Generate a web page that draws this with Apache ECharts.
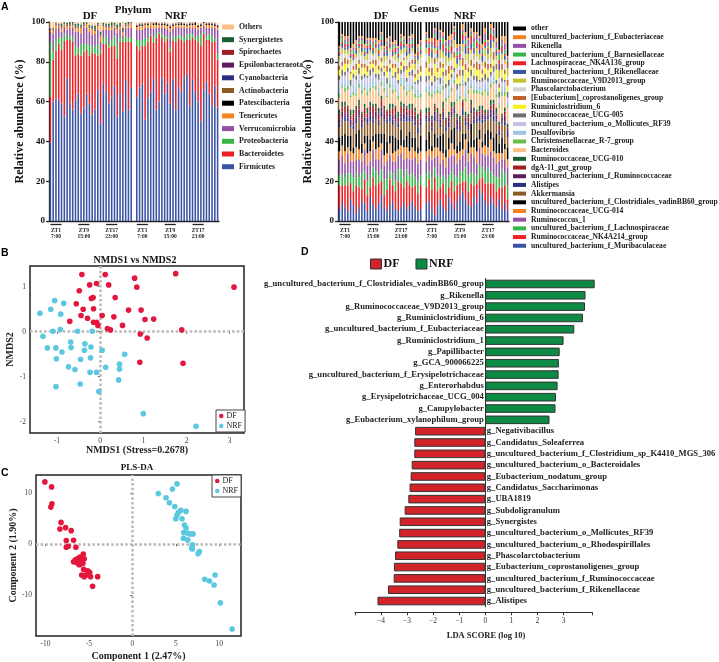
<!DOCTYPE html>
<html>
<head>
<meta charset="utf-8">
<style>
	html, body { margin: 0; padding: 0; background: #fff; }
	#chart { width: 719px; height: 662px; }
</style>
<script src="https://cdn.jsdelivr.net/npm/echarts@6/dist/echarts.min.js"></script>
</head>
<body>
<div id="chart"></div>
<script>
const SERIF = '"Liberation Serif", serif';

// panel A, sample groups and time labels
const sampleNames = Array.from({ length: 61 }, (_, i) => 'S' + i);
const ztGroups = [[0, 4], [10, 14], [20, 24], [31, 35], [41, 45], [51, 55]];
const ztLabels = ['ZT1\n7:00', 'ZT9\n15:00', 'ZT17\n23:00', 'ZT1\n7:00', 'ZT9\n15:00', 'ZT17\n23:00'];

// phylum, 30 DF samples then 30 NRF samples
const phylumFirmicutes = [39.5,60,61.5,61,59,52.5,72,59,56,61,64,54,57,64,59,53.5,56,66,49,69,65,59,62,68,52.5,64,55,71,56,67, 62,67,69,51,62,65,71.5,56,60,72,64,69.5,59,71.5,56,67.5,65,72,74,58,71,65,60,50,66,70,64,58,68,57];
const phylumBacteroidetes = [23,21,24,28,27,38,19,32,34,22,20,29,28,22,24,31,28,17,35,20,24,28,26,20,29,26,35,19,34,23, 26,19,19,37,28,28,18,36,34,20,26,22,26,19,34,24,26,18,17,33,21,26,30,38,28,21,27,32,22,24];
const phylumProteobacteria = [27.5,4,6,3,6,4,1,2,3,5,3,6,4,3,5,4,3,6,2,3,4,2,3,5,8,2,2,3,2,2, 3,5,3,4,2,1,3,2,1,2,3,1,2,3,2,2,2,2,3,3,2,1,3,6,1,2,3,3,2,3];
const phylumVerrucomicrobia = [5,9,5,5,3,3,4,4,4,7,8,5,8,8,7,5,7,7,4,4,3,7,5,4,5,4,1,4,5,5, 5,5,5,5,5,3,4,3,2,3,4,4,8,3,5,4,4,5,3,3,3,5,3,3,3,4,3,4,5,12];
const phylumTenericutes = [0.8,2,2,1,2,1.5,2,1,1.5,2,2,3,1,2,2,3,1.5,2,3,2,1.5,1,1.5,1,2,1.5,2,1,1,2.5, 1.5,2,2,1.5,1.5,3,2,1.5,1.5,1.5,1.5,1.5,2,1.5,1.5,1,1.5,1.5,1,1.5,1.5,1.5,1.5,1,1.5,1.5,1.5,1.5,1,1.5];
const phylumPatescibacteria = [0.3,0.2,0.2,0.2,0.3,0.2,0.3,0.2,0.2,0.3,0.3,0.2,0.2,0.3,0.2,0.2,0.3,0.3,0.2,0.3,0.2,0.2,0.3,0.2,0.3,0.2,0.2,0.3,0.2,0.3, 0.5,0.6,0.8,0.4,0.6,0.5,0.8,1,0.4,0.6,0.5,0.7,0.5,0.8,0.4,0.6,0.9,0.5,0.4,0.7,0.6,1.2,0.5,0.7,1.5,0.6,0.8,0.5,0.7,0.6];
const phylumActinobacteria = [0.1,0.2,0.1,0.1,0.2,0.1,0.1,0.2,0.1,0.1,0.2,0.1,0.1,0.1,0.2,0.1,0.1,0.2,0.1,0.1,0.1,0.2,0.1,0.1,0.2,0.1,0.1,0.1,0.2,0.1, 0.1,0.1,0.2,0.1,0.1,0.2,0.1,0.1,0.1,0.2,0.1,0.1,0.2,0.1,0.1,0.1,0.2,0.1,0.1,0.1,0.2,0.1,0.1,0.2,0.1,0.1,0.1,0.2,0.1,0.1];
const phylumCyanobacteria = [0.1,0.1,0.1,0.2,0.1,0.1,0.1,0.1,0.2,0.1,0.1,0.1,0.1,0.2,0.1,0.1,0.1,0.1,0.2,0.1,0.1,0.1,0.2,0.1,0.1,0.1,0.1,0.2,0.1,0.1, 0.1,0.2,0.1,0.1,0.1,0.1,0.2,0.1,0.1,0.1,0.2,0.1,0.1,0.1,0.1,0.2,0.1,0.1,0.1,0.2,0.1,0.1,0.1,0.1,0.2,0.1,0.1,0.1,0.2,0.1];
const phylumEpsilonbacteraeota = [0.1,0.1,0.1,0.1,0.1,0.2,0.1,0.1,0.1,0.1,0.1,0.2,0.1,0.1,0.1,0.1,0.1,0.2,0.1,0.1,0.1,0.1,0.1,0.2,0.1,0.1,0.1,0.1,0.1,0.1, 0.1,0.1,0.1,0.2,0.1,0.1,0.1,0.1,0.1,0.2,0.1,0.1,0.1,0.1,0.1,0.2,0.1,0.1,0.1,0.1,0.1,0.2,0.1,0.1,0.1,0.1,0.1,0.1,0.2,0.1];
const phylumSpirochaetes = [0.1,0.1,0.2,0.1,0.1,0.1,0.1,0.2,0.1,0.1,0.1,0.1,0.2,0.1,0.1,0.1,0.1,0.2,0.1,0.1,0.1,0.1,0.2,0.1,0.1,0.1,0.1,0.1,0.2,0.1, 0.2,0.1,0.1,0.1,0.1,0.2,0.1,0.1,0.1,0.1,0.2,0.1,0.1,0.1,0.1,0.2,0.1,0.1,0.1,0.1,0.2,0.1,0.1,0.1,0.1,0.2,0.1,0.1,0.1,0.1];
const phylumSynergistetes = [0.3,0.4,0.5,0.5,1.5,0.5,1,1.2,0.8,1.5,1.5,1,1.2,0.4,0.8,1.2,2,0.6,1.5,1,1.2,1.5,1.5,1,1.5,1.5,1.5,0.8,1.2,0.2, 0.1,0.2,0.1,0.1,0.3,0.1,0.1,0.2,0.1,0.1,0.2,0.1,0.3,0.1,0.1,0.2,0.1,0.1,0.2,0.1,0.1,0.2,0.1,0.1,0.2,0.1,0.1,0.3,0.1,0.1];
const phylumOthers = [3.2,3,0.8,1,1,0.3,0.5,0.5,0.5,1,0.8,1.5,0.4,0.2,1.5,1.5,1.5,0.8,4.6,0.4,0.8,1,0.5,0.5,1.5,0.5,3,0.5,0.3,0.4, 1,0.5,1,1,0.8,0.5,0.5,1,0.8,0.5,0.5,0.5,1,0.5,0.5,0.5,0.5,0.5,1,0.5,0.5,0.5,1,0.5,0.5,0.5,0.5,0.8,0.5,1];

const phylumNames = ['Firmicutes', 'Bacteroidetes', 'Proteobacteria', 'Verrucomicrobia', 'Tenericutes', 'Patescibacteria', 'Actinobacteria', 'Cyanobacteria', 'Epsilonbacteraeota', 'Spirochaetes', 'Synergistetes', 'Others'];
const phylumValues = [phylumFirmicutes, phylumBacteroidetes, phylumProteobacteria, phylumVerrucomicrobia, phylumTenericutes, phylumPatescibacteria, phylumActinobacteria, phylumCyanobacteria, phylumEpsilonbacteraeota, phylumSpirochaetes, phylumSynergistetes, phylumOthers];
const phylumColors = ['#3a53a4', '#ee2024', '#39b54a', '#9351a6', '#f58220', '#000000', '#8c5a24', '#2b2e83', '#5e1b5d', '#a01d22', '#1a5e33', '#fbbf85'];

// genus, 30 DF samples then 30 NRF samples
const gMuribaculaceae = [6,9,7,5,11,8,4,7,10,9,5,12,8,6,9,13,7,5,8,10,6,5,7,9,6,8,10,7,5,6, 9,10,6,3,8,11,7,5,12,9,6,10,13,15,11,8,7,12,9,16,14,10,8,12,9,7,11,6,9,5];
const gNK4A214 = [12,9,11,13,8,7,14,10,6,12,8,5,14,12,10,7,6,11,13,8,9,15,12,8,14,10,7,11,9,12, 8,11,10,19,7,6,12,9,5,11,9,8,6,5,9,7,12,6,10,5,8,9,11,7,10,8,6,11,9,6];
const gLachnospiraceae = [5,6,4,6,5,7,6,5,8,4,7,6,5,7,4,6,8,5,4,6,5,6,7,5,6,5,7,4,6,5, 7,4,6,5,8,5,4,7,6,5,8,4,6,5,7,8,5,6,4,7,5,6,8,6,4,7,5,9,6,7];
const gRuminococcus1 = [8,9,7,10,6,8,7,9,6,11,8,7,9,6,8,10,7,9,8,6,10,7,8,9,6,8,7,10,9,8, 6,8,9,5,10,7,8,6,9,8,10,7,6,8,9,7,10,8,6,9,7,8,6,10,9,7,8,5,7,9];
const gUCG014 = [4,5,6,3,5,4,6,5,4,3,6,5,4,5,6,3,5,4,6,4,5,3,4,6,5,4,6,3,5,4, 5,3,4,5,4,6,3,5,4,6,3,5,4,3,5,4,3,5,6,4,3,5,4,6,3,5,4,3,5,4];
const gVadinBB60 = [7,5,9,6,8,3,7,10,5,4,9,6,3,8,7,5,11,6,4,9,7,5,8,4,6,10,5,7,3,8, 6,9,3,7,5,8,10,4,6,7,11,4,5,8,3,6,12,4,7,5,3,6,9,4,7,10,5,8,3,6];
const gAkkermansia = [5,8,6,7,4,9,5,6,8,7,5,9,6,7,4,8,6,9,7,5,8,6,4,9,7,5,8,6,7,5, 9,5,7,6,8,4,7,9,5,6,7,8,5,9,4,6,5,8,7,4,9,6,5,7,8,6,4,7,9,5];
const gAlistipes = [2,1,3,2,1,2,3,1,2,2,1,3,2,1,2,3,1,2,2,3,1,2,2,1,3,2,1,2,3,2, 1,2,2,3,1,2,1,2,3,1,2,2,1,3,2,1,2,2,1,3,2,1,2,2,3,1,2,1,2,3];
const gRuminococcaceae = [2,3,1,2,3,2,1,3,2,1,3,2,2,3,1,2,3,1,2,2,3,1,2,3,2,1,2,3,1,2, 2,1,3,2,1,2,3,1,2,2,1,3,2,1,2,3,1,2,2,1,3,2,1,2,3,2,1,2,3,1];
const gDgA11 = [3,2,4,3,2,4,3,2,3,4,2,3,5,2,3,4,2,3,2,4,3,2,4,3,2,3,4,2,3,3, 1,2,1,3,2,1,2,3,1,2,1,1,2,3,1,2,1,2,3,1,2,1,1,2,3,1,2,1,2,1];
const gUCG010 = [2,3,2,1,3,2,2,3,1,2,3,2,1,2,3,2,2,1,3,2,1,3,2,2,1,3,2,2,3,1, 3,2,2,1,3,2,3,1,2,3,2,2,3,1,2,2,3,2,1,3,2,2,1,3,2,3,2,1,2,2];
const gBacteroides = [6,7,5,8,6,7,5,6,9,7,6,5,8,7,6,5,7,6,8,5,7,6,8,7,5,6,7,5,8,6, 8,6,9,5,7,10,6,8,7,5,9,6,8,7,5,10,6,7,8,6,5,9,7,6,8,5,7,9,6,8];
const gChristensenellaceae = [2,1,2,2,1,2,1,2,2,1,2,2,1,2,1,2,2,1,2,2,1,2,1,2,2,1,2,2,1,2, 1,2,2,1,2,1,2,2,1,2,2,1,2,1,2,2,1,2,2,1,2,1,2,2,1,2,1,2,2,1];
const gDesulfovibrio = [3,2,3,3,2,4,3,2,3,2,3,3,4,2,3,2,3,4,2,3,3,2,3,4,2,3,2,3,3,2, 2,3,2,3,2,2,3,2,3,2,2,3,2,2,3,2,3,2,2,3,2,3,2,2,3,2,2,3,2,2];
const gMollicutes = [4,3,3,4,3,3,4,3,2,3,4,3,3,2,4,3,3,2,4,3,3,4,2,3,3,4,3,2,3,4, 2,3,2,2,3,2,2,3,2,3,2,2,3,2,3,2,2,3,2,2,3,2,3,2,2,3,2,2,3,2];
const gUCG005 = [2,3,2,2,3,2,2,3,2,2,1,3,2,2,3,2,2,3,2,1,3,2,2,3,2,2,3,1,2,3, 3,2,2,3,1,3,2,2,3,2,2,3,1,3,2,2,3,2,3,1,2,3,2,2,3,2,3,2,1,3];
const gRuminiclostridium6 = [3,2,4,2,3,2,3,2,4,3,2,3,2,4,2,3,2,3,2,4,2,3,2,3,4,2,3,2,3,2, 4,2,3,6,3,5,2,4,3,2,5,3,4,2,6,3,2,4,3,5,2,3,4,2,3,5,2,4,3,3];
const gCoprostanoligenes = [2,2,3,2,1,2,3,2,2,2,3,1,2,3,2,2,1,3,2,2,2,3,2,1,2,3,2,2,2,3, 3,2,4,3,2,3,2,3,4,2,3,2,3,4,3,2,3,2,4,3,2,3,3,2,4,3,2,3,2,3];
const gPhascolarctobacterium = [3,4,2,3,4,2,3,3,4,2,3,4,2,3,3,4,2,3,4,3,2,3,4,2,3,3,4,2,3,4, 4,2,3,2,3,2,3,2,2,3,2,3,2,3,2,2,3,2,3,2,2,3,2,3,2,2,3,2,3,2];
const gV9D2013 = [2,3,2,2,3,1,2,3,2,2,3,2,1,3,2,2,3,2,2,1,3,2,2,3,2,1,2,3,2,2, 3,4,2,3,2,4,3,5,2,3,4,2,3,4,3,5,2,3,4,3,2,4,3,5,3,2,4,3,2,4];
const gRikenellaceae = [1,2,1,2,1,1,2,1,2,1,3,1,2,1,1,2,1,3,1,2,1,1,2,1,2,3,1,1,2,1, 2,1,3,1,2,4,1,2,3,1,2,3,1,2,4,1,3,2,1,2,3,1,2,4,1,2,3,1,2,1];
const gNK4A136 = [1,1,2,1,1,2,1,1,2,1,1,2,1,1,2,1,1,2,1,1,2,1,2,1,1,2,1,1,2,1, 2,3,1,4,2,1,3,2,1,3,2,1,2,3,1,2,4,1,2,3,1,2,1,3,2,1,2,3,1,2];
const gBarnesiellaceae = [1,2,1,1,1,2,1,1,2,1,1,1,2,1,1,2,1,1,1,2,1,1,2,1,1,1,2,1,1,2, 1,2,1,2,1,1,3,1,2,1,1,2,1,1,2,1,1,3,1,1,2,1,1,2,1,1,3,1,2,1];
const gRikenella = [1,1,1,2,1,1,1,2,1,1,2,1,1,1,2,1,1,1,2,1,1,2,1,1,1,2,1,1,1,2, 2,1,3,2,1,3,1,2,3,2,1,2,3,1,2,3,1,2,3,2,1,3,2,1,2,3,1,2,3,1];
const gEubacteriaceae = [1,1,2,1,1,2,2,1,1,2,1,1,2,1,2,1,1,2,1,1,2,1,1,2,1,1,2,1,2,1, 1,2,2,1,3,1,2,1,2,3,1,2,1,3,2,1,2,3,1,1,2,3,1,2,1,2,1,2,4,1];
const gOther = [24,26,25,27,24,26,25,24,27,25,26,24,27,25,24,26,25,27,24,26,25,27,24,26,25,24,27,25,26,24, 25,27,26,24,28,25,26,27,25,26,28,24,27,25,26,28,25,24,27,26,25,28,24,26,27,25,26,28,24,27];

const genusNames = ['uncultured_bacterium_f_Muribaculaceae', 'Ruminococcaceae_NK4A214_group', 'uncultured_bacterium_f_Lachnospiraceae', 'Ruminococcus_1', 'Ruminococcaceae_UCG-014', 'uncultured_bacterium_f_Clostridiales_vadinBB60_group', 'Akkermansia', 'Alistipes', 'uncultured_bacterium_f_Ruminococcaceae', 'dgA-11_gut_group', 'Ruminococcaceae_UCG-010', 'Bacteroides', 'Christensenellaceae_R-7_group', 'Desulfovibrio', 'uncultured_bacterium_o_Mollicutes_RF39', 'Ruminococcaceae_UCG-005', 'Ruminiclostridium_6', '[Eubacterium]_coprostanoligenes_group', 'Phascolarctobacterium', 'Ruminococcaceae_V9D2013_group', 'uncultured_bacterium_f_Rikenellaceae', 'Lachnospiraceae_NK4A136_group', 'uncultured_bacterium_f_Barnesiellaceae', 'Rikenella', 'uncultured_bacterium_f_Eubacteriaceae', 'other'];
const genusValues = [gMuribaculaceae, gNK4A214, gLachnospiraceae, gRuminococcus1, gUCG014, gVadinBB60, gAkkermansia, gAlistipes, gRuminococcaceae, gDgA11, gUCG010, gBacteroides, gChristensenellaceae, gDesulfovibrio, gMollicutes, gUCG005, gRuminiclostridium6, gCoprostanoligenes, gPhascolarctobacterium, gV9D2013, gRikenellaceae, gNK4A136, gBarnesiellaceae, gRikenella, gEubacteriaceae, gOther];
const genusColors = ['#3a53a4', '#ee2024', '#39b54a', '#9351a6', '#f58220', '#000000', '#8c5a24', '#2b2e83', '#5e1b5d', '#a01d22', '#1a5e33', '#fbbf85', '#6abd45', '#9dc3e6', '#c5bfe0', '#6d6e71', '#f6ef19', '#c4622d', '#d3d3d3', '#c2c12f', '#3a53a4', '#ee2024', '#39b54a', '#9351a6', '#f58220', '#000000'];

// panel B, NMDS
const nmdsDF = [[-0.42,1.27],[0.12,1.27],[0.8,1.19],[1.75,1.29],[3.1,0.99],[-0.24,1.04],[-0.08,1.07],[0.2,1.04],[0.85,0.99],[-0.48,0.91],[-0.2,0.74],[-0.16,0.76],[0.35,0.76],[-0.55,0.62],[-0.15,0.51],[-0.39,0.5],[0.66,0.48],[0.95,0.48],[-0.44,0.36],[0.05,0.36],[0.32,0.33],[-0.29,0.3],[-0.7,0.23],[1.04,0.27],[1.24,0.28],[-0.15,0.21],[-0.08,0.21],[-0.05,0.14],[0.52,0.14],[0.17,0.07],[0.24,0.04],[1.89,0.04],[0.93,-0.05],[1.09,-0.14],[0.92,-0.68],[1.92,-0.7]];
const nmdsNRF = [[-1.05,0.69],[-0.84,0.63],[-1.39,0.41],[-1.14,0.5],[-0.91,0.39],[-1.09,0.01],[-0.92,0.05],[-0.52,0.01],[-0.18,0.01],[-1.32,-0.1],[-0.68,-0.23],[-0.35,-0.27],[-1.22,-0.36],[-1.02,-0.36],[-0.67,-0.35],[-0.21,-0.34],[-0.36,-0.41],[0.05,-0.41],[-0.88,-0.45],[0.57,-0.5],[-1.01,-0.6],[-0.45,-0.61],[-0.22,-0.58],[0.45,-0.72],[-0.73,-0.78],[-0.58,-0.84],[0.13,-0.79],[0.45,-0.83],[-0.23,-0.9],[-0.08,-0.9],[0.43,-1.07],[-0.46,-1.16],[-1.02,-1.22],[-0.03,-1.33],[1.0,-1.82],[2.22,-2.1]];

// panel C, PLS-DA
const plsDF = [[-10.06,12.29],[-9.29,11.3],[-9.25,7.97],[-9.37,7.32],[-8.2,4.3],[-8.33,3.0],[-7.68,3.27],[-7.03,2.68],[-7.6,0.72],[-6.76,0.78],[-7.37,-0.39],[-7.6,-0.59],[-6.49,-0.59],[-5.64,-1.96],[-6.76,-3.46],[-6.03,-2.55],[-6.33,-2.88],[-6.56,-3.07],[-5.76,-2.94],[-5.53,-2.88],[-6.18,-3.4],[-5.83,-3.4],[-6.41,-3.6],[-6.03,-3.99],[-5.68,-3.73],[-6.14,-4.05],[-5.6,-4.97],[-5.14,-5.23],[-4.91,-5.56],[-5.83,-6.08],[-5.37,-6.14],[-5.03,-5.95],[-4.8,-6.4],[-3.99,-6.4],[-5.53,-6.4],[-4.57,-8.3]];
const plsNRF = [[5.14,11.9],[4.61,10.9],[2.99,10],[3.88,9.15],[4.26,8.17],[4.88,7.45],[5.57,6.67],[6.18,6.47],[5.3,6.27],[5.14,5.75],[5.72,5.03],[4.99,5.03],[5.99,3.79],[6.18,3.2],[5.91,2.29],[6.37,2.16],[6.64,2.03],[6.99,2.03],[5.87,1.18],[6.37,0.85],[6.91,-0.13],[6.83,-0.78],[6.91,-0.92],[7.72,-1.44],[7.56,-1.9],[8.33,-6.93],[8.87,-7.25],[9.4,-8.04],[9.52,-6.08],[10.13,-11.57],[11.48,-16.73]];

// panel D, LDA
const ldaNames = ['g_uncultured_bacterium_f_Clostridiales_vadinBB60_group', 'g_Rikenella', 'g_Ruminococcaceae_V9D2013_group', 'g_Ruminiclostridium_6', 'g_uncultured_bacterium_f_Eubacteriaceae', 'g_Ruminiclostridium_1', 'g_Papillibacter', 'g_GCA_900066225', 'g_uncultured_bacterium_f_Erysipelotrichaceae', 'g_Enterorhabdus', 'g_Erysipelotrichaceae_UCG_004', 'g_Campylobacter', 'g_Eubacterium_xylanophilum_group', 'g_Negativibacillus', 'g_Candidatus_Soleaferrea', 'g_uncultured_bacterium_f_Clostridium_sp_K4410_MGS_306', 'g_uncultured_bacterium_o_Bacteroidales', 'g_Eubacterium_nodatum_group', 'g_Candidatus_Saccharimonas', 'g_UBA1819', 'g_Subdoligranulum', 'g_Synergistes', 'g_uncultured_bacterium_o_Mollicutes_RF39', 'g_uncultured_bacterium_o_Rhodospirillales', 'g_Phascolarctobacterium', 'g_Eubacterium_coprostanoligenes_group', 'g_uncultured_bacterium_f_Ruminococcaceae', 'g_uncultured_bacterium_f_Rikenellaceae', 'g_Alistipes'];
const ldaValues = [4.19, 3.84, 3.82, 3.74, 3.41, 3.0, 2.85, 2.82, 2.81, 2.77, 2.71, 2.69, 2.46, -2.69, -2.72, -2.72, -2.82, -2.86, -2.9, -2.95, -3.09, -3.28, -3.3, -3.37, -3.46, -3.5, -3.51, -3.73, -4.13];
const ldaTicks = [-4, -3, -2, -1, 0, 1, 2, 3];

// the blank category is the gap between DF and NRF
function withGap(values) {
	return [...values.slice(0, 30), null, ...values.slice(30)];
}

function ztLabel(value, index) {
	const group = ztGroups.findIndex(g => g[0] + 2 === index);
	return group < 0 ? '' : ztLabels[group];
}

function stackedSeries(names, values, colors, axisIndex, stack) {
	return names.map((name, i) => ({
		name: name,
		type: 'bar',
		stack: stack,
		xAxisIndex: axisIndex,
		yAxisIndex: axisIndex,
		barWidth: '56%',
		itemStyle: { color: colors[i] },
		data: withGap(values[i]),
	}));
}

function ztSeries(axisIndex) {
	return {
		type: 'custom',
		name: 'zt' + axisIndex,
		xAxisIndex: axisIndex,
		yAxisIndex: axisIndex,
		encode: { x: [0, 1] },
		data: ztGroups,
		renderItem: function (params, api) {
			const a = api.coord([api.value(0), 0]);
			const b = api.coord([api.value(1), 0]);
			return {
				type: 'line',
				shape: { x1: a[0], y1: a[1] + 3.5, x2: b[0], y2: b[1] + 3.5 },
				style: { stroke: '#222', lineWidth: 1.3 },
			};
		},
	};
}

function scatterSeries(name, data, color, axisIndex, withLines) {
	const s = {
		name: name,
		type: 'scatter',
		xAxisIndex: axisIndex,
		yAxisIndex: axisIndex,
		symbolSize: 5.6,
		z: 3,
		itemStyle: { color: color, opacity: 1 },
		data: data,
	};
	if (withLines) {
		s.markLine = {
			silent: true,
			symbol: 'none',
			animation: false,
			z: 1,
			label: { show: false },
			lineStyle: { color: '#b8b8b8', width: 2.5, type: [2.5, 2.2], opacity: 1 },
			data: [{ xAxis: 0 }, { yAxis: 0 }],
		};
	}
	return s;
}

function abundanceX(gridIndex) {
	return {
		type: 'category',
		gridIndex: gridIndex,
		data: sampleNames,
		axisLine: { lineStyle: { color: '#222', width: 1.3 } },
		axisTick: { show: false },
		axisLabel: {
			interval: 0,
			margin: 6,
			formatter: ztLabel,
			fontFamily: SERIF,
			fontWeight: 'bold',
			fontSize: 5.5,
			lineHeight: 6.5,
			color: '#222',
		},
	};
}

function abundanceY(gridIndex) {
	return {
		type: 'value',
		gridIndex: gridIndex,
		min: 0,
		max: 100,
		interval: 20,
		name: 'Relative abundance (%)',
		nameLocation: 'middle',
		nameGap: 23,
		nameTextStyle: { fontFamily: SERIF, fontWeight: 'bold', fontSize: 12, color: '#111' },
		splitLine: { show: false },
		axisLine: { show: true, lineStyle: { color: '#222', width: 1.3 } },
		axisTick: { show: true, length: 3, lineStyle: { color: '#222', width: 1.3 } },
		axisLabel: { margin: 4, fontFamily: SERIF, fontWeight: 'bold', fontSize: 9, color: '#111' },
	};
}

function scatterAxis(gridIndex, min, max, ticks, name, nameGap) {
	return {
		type: 'value',
		gridIndex: gridIndex,
		min: min,
		max: max,
		name: name,
		nameLocation: 'middle',
		nameGap: nameGap,
		nameTextStyle: { fontFamily: SERIF, fontWeight: 'bold', fontSize: 10, color: '#222' },
		splitLine: { show: false },
		axisLine: { show: false },
		axisTick: { show: true, length: 2, customValues: ticks, lineStyle: { color: '#555' } },
		axisLabel: { margin: 4, customValues: ticks, fontFamily: SERIF, fontSize: 7.5, color: '#444' },
	};
}

function scatterLegend(left, top, width, height) {
	return {
		left: left,
		top: top,
		width: width,
		height: height,
		orient: 'vertical',
		selectedMode: false,
		data: ['DF', 'NRF'],
		icon: 'circle',
		itemWidth: 4.5,
		itemHeight: 4.5,
		itemGap: 0,
		padding: [1, 3, 1, 3],
		backgroundColor: '#fff',
		borderColor: '#444',
		borderWidth: 1,
		textStyle: { fontFamily: SERIF, fontSize: 8, color: '#222', padding: [0, 0, 0, -2], lineHeight: 10 },
		z: 6,
	};
}

function titleText(text, x, y, size) {
	return {
		text: text,
		left: x,
		top: y,
		textAlign: 'center',
		padding: 0,
		textStyle: { fontFamily: SERIF, fontWeight: 'bold', fontSize: size, color: '#111' },
	};
}

function panelLetter(text, x, y) {
	return {
		text: text,
		left: x,
		top: y,
		padding: 0,
		textStyle: { fontFamily: '"Liberation Sans", sans-serif', fontWeight: 'bold', fontSize: 10.5, color: '#000' },
	};
}

function ldaSeries(name, keep, color, side) {
	return {
		name: name,
		type: 'bar',
		xAxisIndex: 4,
		yAxisIndex: 4,
		barWidth: 8.6,
		barGap: '-100%',
		clip: false,
		itemStyle: { color: color, borderColor: '#333', borderWidth: 1 },
		label: {
			show: true,
			position: side,
			distance: 1.5,
			formatter: '{b}',
			fontFamily: SERIF,
			fontWeight: 'bold',
			fontSize: 8.6,
			color: '#222',
		},
		data: ldaValues.map(v => (keep(v) ? v : null)),
	};
}

const option = {
	animation: false,
	backgroundColor: '#fff',
	title: [
		panelLetter('A', 1, 2),
		panelLetter('B', 1, 248),
		panelLetter('C', 1, 468),
		panelLetter('D', 301, 247),
		titleText('Phylum', 133, 5, 11),
		titleText('DF', 90, 11, 11),
		titleText('NRF', 176, 11, 11),
		titleText('Genus', 424, 4, 11),
		titleText('DF', 381, 11, 11),
		titleText('NRF', 465, 11, 11),
		titleText('NMDS1 vs NMDS2', 135, 255, 10),
		titleText('PLS-DA', 137, 463, 9),
	],
	legend: [
		{
			left: 222,
			top: 23,
			orient: 'vertical',
			selectedMode: false,
			padding: 0,
			data: phylumNames.slice().reverse(),
			icon: 'rect',
			itemWidth: 12,
			itemHeight: 5,
			itemGap: 4.7,
			textStyle: { fontFamily: SERIF, fontWeight: 'bold', fontSize: 7.8, color: '#222', lineHeight: 8 },
		},
		{
			left: 513,
			top: 24.5,
			orient: 'vertical',
			selectedMode: false,
			padding: 0,
			data: genusNames.slice().reverse(),
			icon: 'rect',
			itemWidth: 13,
			itemHeight: 4,
			itemGap: 0.69,
			textStyle: { fontFamily: SERIF, fontWeight: 'bold', fontSize: 7.6, color: '#222', lineHeight: 7 },
		},
		scatterLegend(216, 410, 28, 23),
		scatterLegend(212, 475, 29, 22),
		{
			left: 370,
			top: 258,
			orient: 'horizontal',
			selectedMode: false,
			padding: 0,
			data: [
				{ name: 'DF', itemStyle: { color: '#d2232a', borderColor: '#333', borderWidth: 1 } },
				{ name: 'NRF', itemStyle: { color: '#0d8a44', borderColor: '#333', borderWidth: 1 } },
			],
			icon: 'rect',
			itemWidth: 11,
			itemHeight: 10,
			itemGap: 16,
			textStyle: { fontFamily: SERIF, fontWeight: 'bold', fontSize: 12, color: '#111', padding: [0, 0, 0, -3] },
		},
	],
	grid: [
		{ left: 49, top: 22, width: 170, height: 199 },
		{ left: 338, top: 22, width: 171, height: 199 },
		{ left: 30, top: 266, width: 214, height: 167, show: true, borderColor: '#222', borderWidth: 1.5 },
		{ left: 36, top: 475, width: 205, height: 162, show: true, borderColor: '#222', borderWidth: 1.5 },
		{ left: 354.8, top: 278.3, width: 237.5, height: 328.4 },
	],
	xAxis: [
		abundanceX(0),
		abundanceX(1),
		scatterAxis(2, -1.62, 3.33, [-1, 0, 1, 2, 3], 'NMDS1 (Stress=0.2678)', 10),
		scatterAxis(3, -11.08, 12.5, [-10, -5, 0, 5, 10], 'Component 1 (2.47%)', 15),
		{
			type: 'value',
			gridIndex: 4,
			min: -5,
			max: 4.1,
			offset: 5.6,
			splitLine: { show: false },
			axisLine: { show: true, onZero: false, lineStyle: { color: '#333', width: 1 } },
			axisTick: { show: true, length: 3, customValues: [-5, ...ldaTicks, 4.1], lineStyle: { color: '#333' } },
			axisLabel: {
				customValues: ldaTicks,
				margin: 5,
				fontFamily: SERIF,
				fontSize: 7.5,
				color: '#333',
				formatter: v => String(v).replace('-', '\u2212'),
			},
			name: 'LDA SCORE (log 10)',
			nameLocation: 'middle',
			nameGap: 19,
			nameTextStyle: { fontFamily: SERIF, fontWeight: 'bold', fontSize: 8.5, color: '#222', padding: [0, 0, 0, 25] },
		},
	],
	yAxis: [
		abundanceY(0),
		Object.assign(abundanceY(1), { nameGap: 24 }),
		scatterAxis(2, -2.25, 1.46, [-2, -1, 0, 1], 'NMDS2', 8),
		scatterAxis(3, -18.1, 13.65, [-10, 0, 10], 'Component 2 (1.90%)', 12),
		{
			type: 'category',
			gridIndex: 4,
			inverse: true,
			data: ldaNames,
			axisLine: { show: true, onZero: true, lineStyle: { color: '#333', width: 1 } },
			axisTick: { show: false },
			axisLabel: { show: false },
		},
	],
	series: [
		...stackedSeries(phylumNames, phylumValues, phylumColors, 0, 'phylum'),
		ztSeries(0),
		...stackedSeries(genusNames, genusValues, genusColors, 1, 'genus'),
		ztSeries(1),
		scatterSeries('DF', nmdsDF, '#e3173e', 2, true),
		scatterSeries('NRF', nmdsNRF, '#5ac8de', 2, false),
		scatterSeries('DF', plsDF, '#e3173e', 3, true),
		scatterSeries('NRF', plsNRF, '#5ac8de', 3, false),
		ldaSeries('NRF', v => v > 0, '#0d8a44', 'left'),
		ldaSeries('DF', v => v < 0, '#d2232a', 'right'),
	],
};

const myChart = echarts.init(document.getElementById('chart'));
myChart.setOption(option);
window.addEventListener('resize', function () {
	myChart.resize();
});
</script>
</body>
</html>
